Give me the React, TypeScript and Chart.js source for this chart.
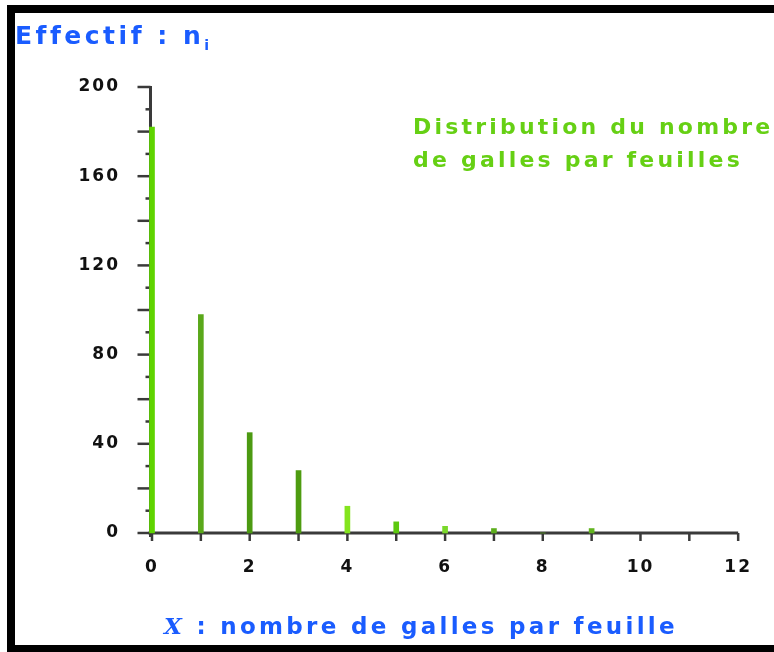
import React, { useEffect, useRef } from "react";
import { Chart, registerables } from "chart.js";

Chart.register(...registerables);

const categories = [0, 1, 2, 3, 4, 5, 6, 7, 8, 9];
const counts = [182, 98, 45, 28, 12, 5, 3, 2, 0, 2];
const BAR_COLORS = ["#5fd400", "#5aa81a", "#4c9a12", "#4e9c10", "#84e41e", "#5cc80e", "#7ad82a", "#5cae1c", "#5cae1c", "#62b420"];

const yTickValues = [0, 40, 80, 120, 160, 200];
const xTickValues = [0, 2, 4, 6, 8, 10, 12];

const AXIS_COLOR = "#3a3a3a";

const axisPlugin = {
  id: "customAxes",
  beforeDraw(chart: any) {
    (chart.ctx as any).letterSpacing = "2px";
  },
  beforeDatasetsDraw(chart: any) {
    const ctx = chart.ctx;
    const x = chart.scales.x;
    const y = chart.scales.y;
    ctx.save();
    (ctx as any).letterSpacing = "0px";
    ctx.strokeStyle = AXIS_COLOR;
    ctx.lineWidth = 3;
    const x0 = x.getPixelForValue(0) - 1.5;
    const y0 = y.getPixelForValue(0);
    ctx.beginPath();
    ctx.moveTo(x0, y.getPixelForValue(200) - 1);
    ctx.lineTo(x0, y0 + 4);
    ctx.stroke();
    ctx.beginPath();
    ctx.moveTo(x0 - 2, y0);
    ctx.lineTo(x.getPixelForValue(12), y0);
    ctx.stroke();
    ctx.lineWidth = 2.5;
    for (let v = 0; v <= 200; v += 10) {
      const py = y.getPixelForValue(v);
      const len = v % 20 === 0 ? 13 : 5;
      ctx.beginPath();
      ctx.moveTo(x0 - len, py);
      ctx.lineTo(x0, py);
      ctx.stroke();
    }
    for (let v = 0; v <= 12; v += 1) {
      const px = x.getPixelForValue(v);
      ctx.beginPath();
      ctx.moveTo(px, y0);
      ctx.lineTo(px, y0 + 8);
      ctx.stroke();
    }
    ctx.restore();
  },
};

export default function App() {
  const canvasRef = useRef<HTMLCanvasElement | null>(null);

  useEffect(() => {
    document.body.style.margin = "0";
    document.documentElement.style.overflow = "hidden";
    document.body.style.background = "#fff";
    const canvas = canvasRef.current;
    if (!canvas) return;
    const tickFont = { family: "'DejaVu Sans'", size: 17, weight: "bold" as const };
    const chart = new Chart(canvas, {
      type: "bar",
      data: {
        datasets: [
          {
            data: categories.map((c, i) => ({ x: c, y: counts[i] })),
            backgroundColor: BAR_COLORS,
            borderWidth: 0,
            barThickness: 5,
            clip: false as any,
          },
        ],
      },
      options: {
        animation: false,
        responsive: false,
        maintainAspectRatio: false,
        layout: { padding: { left: 0, top: 87, right: 29, bottom: 0 } },
        plugins: { legend: { display: false }, tooltip: { enabled: false } },
        scales: {
          x: {
            type: "linear",
            min: 0,
            max: 12,
            offset: false,
            grid: { display: false, drawTicks: false },
            border: { display: false },
            afterFit: (s: any) => {
              s.height = 652 - 533;
            },
            afterBuildTicks: (s: any) => {
              s.ticks = xTickValues.map((v) => ({ value: v }));
            },
            ticks: {
              color: "#111",
              font: tickFont,
              padding: 24,
              maxRotation: 0,
              autoSkip: false,
            },
          },
          y: {
            type: "linear",
            min: 0,
            max: 200,
            grid: { display: false, drawTicks: false },
            border: { display: false },
            afterFit: (s: any) => {
              s.width = 152;
            },
            afterBuildTicks: (s: any) => {
              s.ticks = yTickValues.map((v) => ({ value: v }));
            },
            ticks: {
              color: "#111",
              font: tickFont,
              padding: 32,
              autoSkip: false,
            },
          },
        },
      },
      plugins: [axisPlugin],
    });
    return () => chart.destroy();
  }, []);

  const blueFont: React.CSSProperties = {
    position: "absolute",
    fontFamily: "'DejaVu Sans', sans-serif",
    fontWeight: "bold",
    color: "#1a5cff",
    whiteSpace: "nowrap",
  };

  return (
    <div style={{ position: "fixed", left: 0, top: 0, width: 774, height: 652, background: "#fff", overflow: "hidden" }}>
      <div style={{ position: "absolute", left: 7, top: 5, width: 767, height: 8, background: "#000" }} />
      <div style={{ position: "absolute", left: 7, top: 5, width: 8, height: 647, background: "#000" }} />
      <div style={{ position: "absolute", left: 7, top: 645, width: 767, height: 7, background: "#000" }} />
      <canvas ref={canvasRef} width={774} height={652} style={{ position: "absolute", left: 0, top: 0 }} />
      <div style={{ ...blueFont, left: 15, top: 21, fontSize: 25, letterSpacing: 3.5 }}>
        Effectif : n<sub style={{ fontSize: 14 }}>i</sub>
      </div>
      <div
        style={{
          position: "absolute",
          left: 413,
          top: 110,
          fontFamily: "'DejaVu Sans', sans-serif",
          fontWeight: "bold",
          fontSize: 22,
          lineHeight: "33px",
          letterSpacing: 3.2,
          color: "#66d014",
          whiteSpace: "nowrap",
        }}
      >
        Distribution du nombre
        <br />
        de galles par feuilles
      </div>
      <div style={{ ...blueFont, left: 164, top: 612, fontSize: 23, letterSpacing: 3.3 }}>
        <i style={{ fontFamily: "'DejaVu Serif', serif" }}>X</i> : nombre de galles par feuille
      </div>
    </div>
  );
}
